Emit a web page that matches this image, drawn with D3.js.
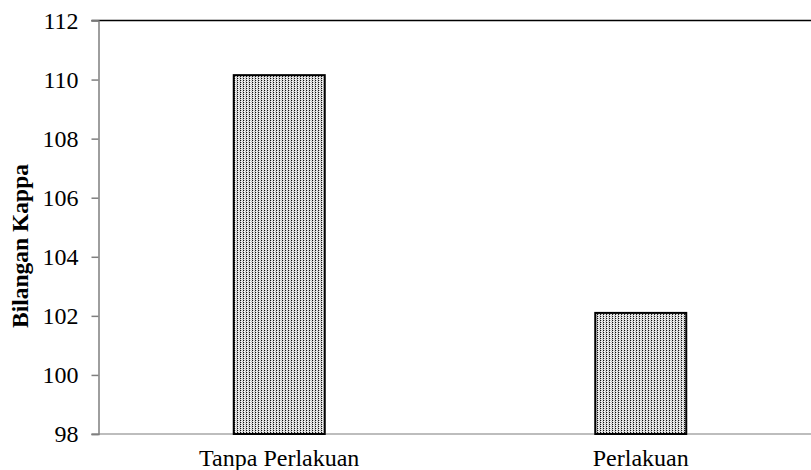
<!DOCTYPE html>
<html>
<head>
<meta charset="utf-8">
<script src="https://cdn.jsdelivr.net/npm/d3@7"></script>
</head>
<body style="margin:0">
<svg id="chart" width="811" height="470" style="display:block;background:#fff"></svg>
<script>
const categories = ["Tanpa Perlakuan", "Perlakuan"];
const values = [110.15, 102.1];
const yTicks = [98, 100, 102, 104, 106, 108, 110, 112];
const yTitle = "Bilangan Kappa";

const FONT = '"Liberation Serif", serif';
const svg = d3.select("#chart").style("font-family", FONT);
const mLeft = 98.5, mTop = 20.5, mBottom = 434, mRight = 821.5;

const defs = svg.append("defs");
const pat = defs.append("pattern")
  .attr("id", "dots").attr("patternUnits", "userSpaceOnUse")
  .attr("width", 3).attr("height", 2);
pat.append("rect").attr("width", 3).attr("height", 2).attr("fill", "#c4c4c4");
pat.append("rect").attr("x", 0).attr("y", 0).attr("width", 1).attr("height", 1).attr("fill", "#111");
pat.append("rect").attr("x", 1).attr("y", 1).attr("width", 1).attr("height", 1).attr("fill", "#fff");
pat.append("rect").attr("x", 2).attr("y", 0).attr("width", 1).attr("height", 1).attr("fill", "#eee");

const x = d3.scalePoint().domain(categories).range([mLeft, mRight]).padding(0.5);
const y = d3.scaleLinear().domain([98, 112]).range([mBottom, mTop]);
const barW = 91;

// top border
svg.append("line").attr("x1", mLeft - 7).attr("x2", 811).attr("y1", y(112)).attr("y2", y(112))
  .attr("stroke", "#000").attr("stroke-width", 1.5);

// x axis baseline
svg.append("line").attr("x1", mLeft - 7).attr("x2", 811).attr("y1", y(98)).attr("y2", y(98))
  .attr("stroke", "#bdbdbd").attr("stroke-width", 2);

// bars
svg.selectAll("rect.bar").data(values).enter().append("rect")
  .attr("class", "bar")
  .attr("x", (d, i) => x(categories[i]) - barW / 2)
  .attr("y", d => y(d))
  .attr("width", barW)
  .attr("height", d => y(98) - y(d))
  .attr("fill", "url(#dots)")
  .attr("stroke", "#000").attr("stroke-width", 2);

// y axis
const yAxis = d3.axisLeft(y).tickValues(yTicks).tickSize(7).tickPadding(13).tickFormat(d3.format("d"));
const ga = svg.append("g").attr("transform", `translate(${mLeft},0)`).call(yAxis);
ga.attr("font-family", null).attr("font-size", null);
ga.select(".domain").attr("stroke", "#7f7f7f").attr("stroke-width", 1.5);
ga.selectAll(".tick line").attr("stroke", "#7f7f7f").attr("stroke-width", 1.5);
ga.selectAll(".tick text")
  .attr("font-family", "Liberation Serif").style("font-family", FONT)
  .style("font-size", "24px").attr("fill", "#000");

// x labels
svg.selectAll("text.xl").data(categories).enter().append("text")
  .attr("class", "xl")
  .attr("x", d => x(d)).attr("y", 466)
  .attr("text-anchor", "middle")
  .attr("font-family", "Liberation Serif").style("font-family", FONT)
  .style("font-size", "24px").attr("fill", "#000")
  .text(d => d);

// y title
svg.append("text")
  .attr("transform", `translate(28,246) rotate(-90)`)
  .attr("text-anchor", "middle")
  .attr("font-family", "Liberation Serif").style("font-family", FONT)
  .style("font-size", "23.5px").style("font-weight", "bold")
  .attr("fill", "#000")
  .text(yTitle);
</script>
</body>
</html>
